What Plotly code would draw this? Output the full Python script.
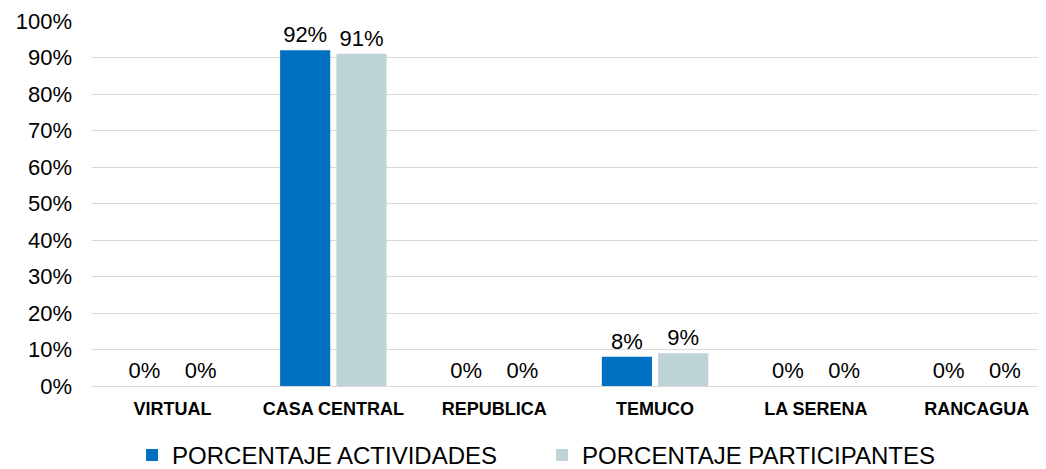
import plotly.graph_objects as go

categories = ["VIRTUAL", "CASA CENTRAL", "REPUBLICA", "TEMUCO", "LA SERENA", "RANCAGUA"]
actividades = [0.0, 0.92, 0.0, 0.08, 0.0, 0.0]
participantes = [0.0, 0.91, 0.0, 0.09, 0.0, 0.0]
y_ticks = [0, 0.1, 0.2, 0.3, 0.4, 0.5, 0.6, 0.7, 0.8, 0.9, 1.0]

font_family = "Liberation Sans, Arial, sans-serif"

fig = go.Figure()
fig.add_trace(go.Bar(
    x=categories, y=actividades, name="PORCENTAJE ACTIVIDADES",
    marker=dict(color="#0070C0", line=dict(width=0)),
    text=[f"{v:.0%}" for v in actividades], textposition="outside",
    textfont=dict(size=22, color="#000000", family=font_family),
    cliponaxis=False,
))
fig.add_trace(go.Bar(
    x=categories, y=participantes, name="PORCENTAJE PARTICIPANTES",
    marker=dict(color="#BDD3D6", line=dict(width=0)),
    text=[f"{v:.0%}" for v in participantes], textposition="outside",
    textfont=dict(size=22, color="#000000", family=font_family),
    cliponaxis=False,
))

fig.update_layout(
    width=1038, height=461,
    margin=dict(l=84, r=0, t=13, b=83, autoexpand=False),
    paper_bgcolor="white", plot_bgcolor="white",
    barmode="group", bargap=0.30, bargroupgap=0.11,
    font=dict(family=font_family, color="#000000"),
    showlegend=True,
    legend=dict(orientation="h", x=0.042, xanchor="left", y=-0.19, yanchor="middle",
                font=dict(size=24, color="#000000", family=font_family),
                entrywidth=365, entrywidthmode="pixels", traceorder="normal"),
)
fig.update_yaxes(range=[0, 1.0], tickvals=y_ticks, tickformat=".0%",
                 showgrid=True, gridcolor="#D9D9D9", gridwidth=1.3,
                 zeroline=False, showline=False, ticks="", automargin=False,
                 ticklabelstandoff=19, ticklabeloverflow="allow",
                 tickfont=dict(size=22, color="#000000", family=font_family))
fig.update_xaxes(range=[-0.5, 5.43], showline=True, linecolor="#D9D9D9", linewidth=1.3,
                 ticks="", automargin=False, ticklabelstandoff=6, ticklabeloverflow="allow",
                 tickfont=dict(size=18, color="#000000", family=font_family, weight="bold"))

fig.write_html("out.html")
